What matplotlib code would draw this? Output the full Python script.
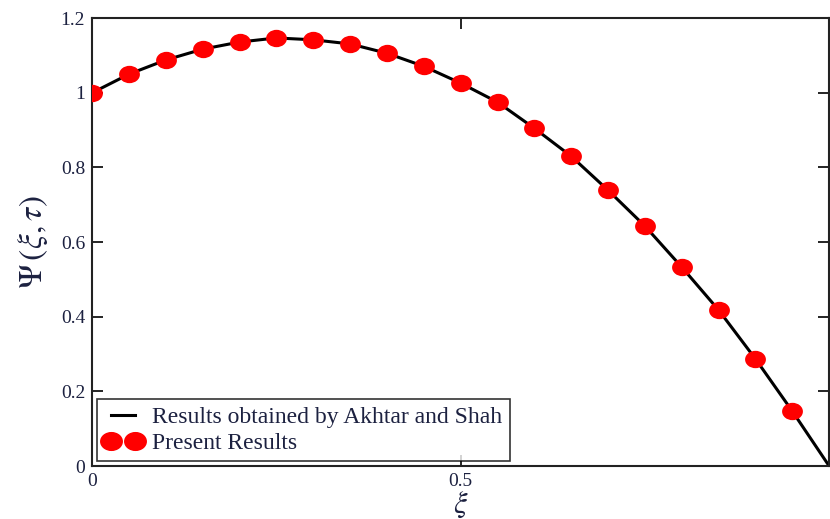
import matplotlib
matplotlib.use("Agg")
import matplotlib.pyplot as plt
from matplotlib.path import Path
from matplotlib.transforms import Affine2D

# ==========================================
# DATA
# ==========================================

xi_points = [0.0, 0.05, 0.10, 0.15, 0.20, 0.25, 0.30, 0.35, 0.40, 0.45,
             0.50, 0.55, 0.60, 0.65, 0.70, 0.75, 0.80, 0.85, 0.90, 0.95]
psi_present = [1.000, 1.050, 1.088, 1.117, 1.136, 1.147, 1.142, 1.131,
               1.106, 1.071, 1.026, 0.975, 0.905, 0.830, 0.739, 0.643,
               0.533, 0.418, 0.287, 0.147]

xi_line = [0.0, 0.05, 0.10, 0.15, 0.20, 0.25, 0.30, 0.35, 0.40, 0.45,
           0.50, 0.55, 0.60, 0.65, 0.70, 0.75, 0.80, 0.85, 0.90, 0.95, 1.0]
psi_akhtar = [1.000, 1.050, 1.088, 1.117, 1.136, 1.147, 1.142, 1.131,
              1.106, 1.071, 1.026, 0.975, 0.905, 0.830, 0.739, 0.643,
              0.533, 0.418, 0.287, 0.147, 0.0]

x_ticks = [0, 0.5]
x_tick_labels = ["0", "0.5"]
y_ticks = [0, 0.2, 0.4, 0.6, 0.8, 1.0, 1.2]
y_tick_labels = ["0", "0.2", "0.4", "0.6", "0.8", "1", "1.2"]

# ==========================================
# STYLE
# ==========================================

TEXT = "#1c2140"
plt.rcParams["font.family"] = ["Liberation Serif", "DejaVu Serif"]
plt.rcParams["mathtext.fontset"] = "stix"

# slightly flattened dot, like the reference
ellipse = Path.unit_circle().transformed(Affine2D().scale(1.2, 1.0))

fig = plt.figure(figsize=(8.30, 5.19), dpi=100, facecolor="white")
ax = fig.add_axes([0.111, 0.102, 0.888, 0.863])

ax.plot(xi_line, psi_akhtar, color="black", linewidth=2.2,
        label="Results obtained by Akhtar and Shah", zorder=2)
ax.plot(xi_points, psi_present, linestyle="none", marker=ellipse,
        markersize=15, color="#ff0000", markeredgewidth=0,
        label="Present Results", zorder=3)

ax.set_xlim(0, 1)
ax.set_ylim(0, 1.2)

ax.set_xticks(x_ticks)
ax.set_xticklabels(x_tick_labels)
ax.set_yticks(y_ticks)
ax.set_yticklabels(y_tick_labels)

ax.tick_params(direction="in", length=8, width=1.2, top=True, right=True,
               labelsize=14, labelcolor=TEXT, pad=5)

for s in ax.spines.values():
    s.set_linewidth(1.5)
    s.set_color("#222222")

ax.set_xlabel(r"$\xi$", fontsize=22, color=TEXT, labelpad=0)
ax.set_ylabel(r"$\Psi\,(\xi,\tau)$", fontsize=24, color=TEXT, labelpad=8)

leg = ax.legend(loc="lower left", numpoints=2, fontsize=17,
                frameon=True, fancybox=False, borderaxespad=0.2,
                handlelength=1.6, handletextpad=0.45, borderpad=0.3,
                labelspacing=0.2, markerscale=1.1)
leg.get_frame().set_edgecolor("black")
leg.get_frame().set_linewidth(1.2)
for t in leg.get_texts():
    t.set_color(TEXT)

plt.savefig("out.png", dpi=100, facecolor="white")
plt.close()
